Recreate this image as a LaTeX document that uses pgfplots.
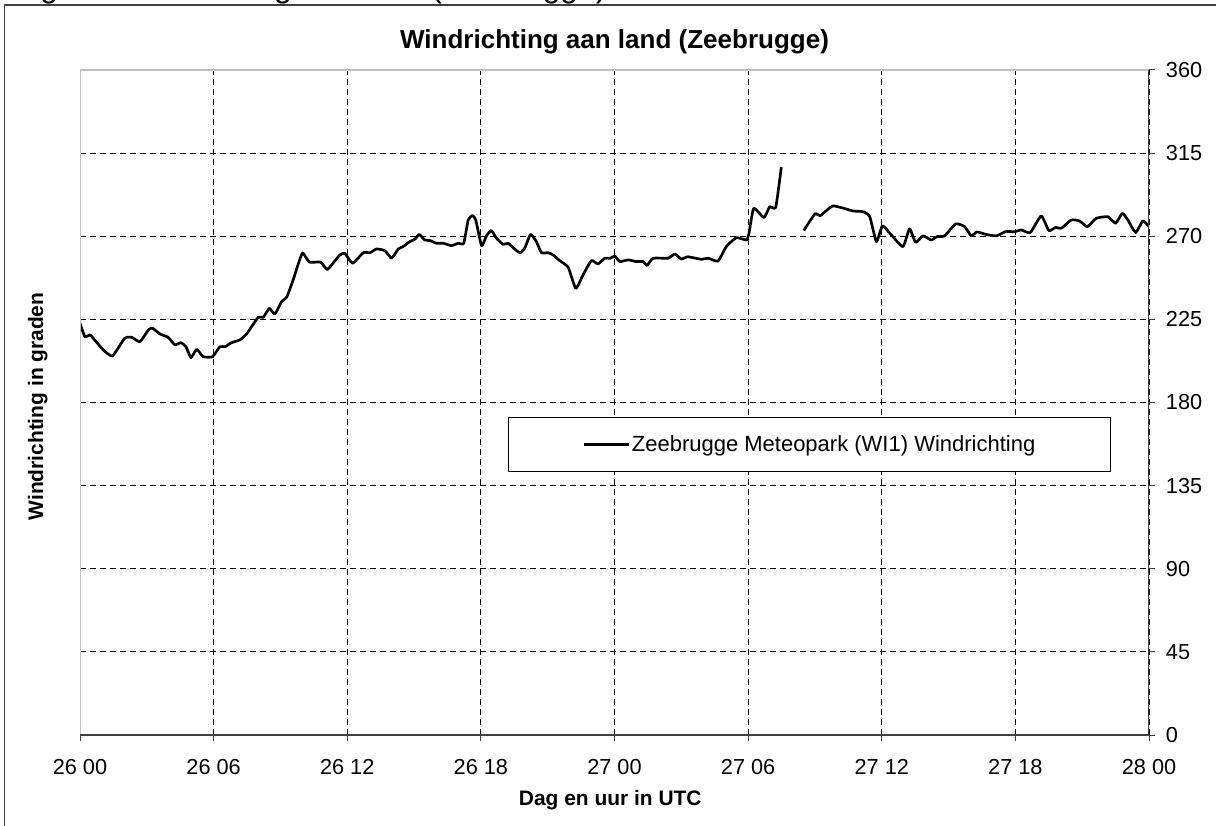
\documentclass[border=0pt]{standalone}
\usepackage{pgfplots}
\pgfplotsset{compat=1.18}
\usepackage{fontspec}
\setmainfont{Liberation Sans}
\definecolor{bordergray}{RGB}{192,192,192}
\definecolor{axisdark}{RGB}{64,64,64}
\begin{document}
\begin{tikzpicture}[x=0.75pt,y=0.75pt]
\useasboundingbox (0,0) rectangle (1216,825);
\clip (0,0) rectangle (1216,825);
% cut-off caption above the frame
\node[anchor=base west, inner sep=0pt, font=\fontsize{23.85}{26}\selectfont] at (13.5,827.7) {Fig. 4: Windrichting aan land (Zeebrugge)};
% outer chart frame
\fill[white] (4.5,-10) rectangle (1240,820);
\draw[axisdark, line width=1.1pt] (4.5,-10) -- (4.5,820) -- (1240,820);
\begin{axis}[
  at={(60pt,67.5pt)}, anchor=south west,
  scale only axis, width=801.75pt, height=498.75pt,
  xmin=0, xmax=48, ymin=0, ymax=360,
  xtick={0,6,...,48},
  xticklabels={26 00,26 06,26 12,26 18,27 00,27 06,27 12,27 18,28 00},
  ytick={0,45,...,360},
  xtick pos=left, ytick pos=right,
  yticklabel pos=right,
  tick align=outside, major tick length=4.5pt,
  tick style={axisdark, line width=0.75pt},
  axis line style={draw=none},
  grid=major,
  major grid style={black, line width=0.75pt, dash pattern=on 4.5pt off 3pt},
  /pgf/number format/assume math mode=true,
  ticklabel style={font=\fontsize{16.3}{19}\selectfont},
  yticklabel style={anchor=west, inner sep=0pt, xshift=8pt},
  xticklabel style={anchor=base, inner sep=0pt, yshift=-25pt},
  title={\bfseries Windrichting aan land (Zeebrugge)},
  title style={at={(axis description cs:0.5,1.0196)}, anchor=base, inner sep=0pt, font=\fontsize{19.5}{22}\selectfont},
  xlabel={\bfseries Dag en uur in UTC},
  xlabel style={at={(axis description cs:0.496,-0.1063)}, anchor=base, inner sep=0pt, font=\fontsize{15.7}{18}\selectfont},
  ylabel={\bfseries Windrichting in graden},
  ylabel style={at={(axis description cs:-0.0346,0.494)}, anchor=base, inner sep=0pt, font=\fontsize{15.7}{18}\selectfont},
  legend style={at={(axis description cs:0.4004,0.4782)}, anchor=north west,
    draw=black, line width=0.75pt, inner xsep=55.5pt, inner ysep=12.5pt,
    font=\fontsize{16.5}{19}\selectfont, nodes={inner xsep=1pt, inner ysep=1pt},
    /tikz/every even column/.append style={column sep=0pt}},
  legend image code/.code={\draw[#1] (0pt,0pt) -- (34pt,0pt);},
]
\addplot[black, line width=2pt, line join=round, smooth, tension=0.3] coordinates {
(0,222.9) (0.22,215.6) (0.45,216.6) (0.6,214.7) (1.05,208.4) (1.46,205.2)
(2.0,214.7) (2.32,215.3) (2.69,212.9) (3.07,219.3) (3.26,220.2) (3.59,217.1)
(3.96,215.3) (4.26,211.2) (4.52,212.4) (4.76,210.2) (4.98,204.3) (5.24,208.8)
(5.53,204.8) (5.95,204.8) (6.28,210.2) (6.51,210.2) (6.81,212.4) (7.18,213.9)
(7.48,217.1) (8.0,226.1) (8.23,226.1) (8.5,231.0) (8.75,227.9) (9.05,234.6)
(9.28,237.0) (9.57,246.3) (9.8,255) (10.0,261) (10.3,256) (10.8,256)
(11.1,252) (11.4,256) (11.67,259.9) (11.89,260.8) (12.24,255.4) (12.72,261.1)
(13.02,261.1) (13.31,263.1) (13.69,262.2) (13.99,258.1) (14.29,263.1) (14.51,264.4)
(14.81,267.1) (15.04,268.4) (15.23,271.0) (15.48,268.0) (15.74,267.6) (16.0,266.2)
(16.31,266.2) (16.68,264.9) (16.98,266.2) (17.23,266.2) (17.43,278.8) (17.62,281.2)
(17.77,278.8) (18.03,264.9) (18.25,270.2) (18.47,273.1) (18.7,268.9) (19.0,265.6)
(19.22,266.2) (19.45,263.8) (19.75,261.1) (19.97,263.5) (20.23,271.0) (20.49,267.1)
(20.72,261.1) (21.02,261.1) (21.24,259.9) (21.54,256.8) (21.92,253.2) (22.26,241.8)
(22.59,249.1) (22.96,256.8) (23.26,255.0) (23.56,258.1) (23.82,258.1) (24.01,259.3)
(24.24,256.3) (24.61,257.2) (24.98,256.3) (25.28,256.3) (25.46,254.2) (25.73,258.1)
(26.4,258.1) (26.71,260.4) (27.0,257.7) (27.3,258.9) (27.9,257.5) (28.2,258.1)
(28.65,256.6) (29.02,264.4) (29.47,269.2) (29.92,268.0) (30.04,271.6) (30.25,285.1)
(30.71,280.1) (30.97,286.0) (31.24,285.7) (31.49,307.4)
};
\addlegendentry{Zeebrugge Meteopark (WI1) Windrichting}
\addplot[black, line width=2pt, line join=round, smooth, tension=0.3, forget plot] coordinates {
(32.5,273.1) (33.0,282.1) (33.25,281.2) (33.81,286.4) (34.71,283.7) (35.16,283.3)
(35.46,280.6) (35.76,267.1) (36.03,275.6) (36.43,270.7) (36.95,264.4) (37.25,274.0)
(37.52,266.7) (37.85,270.2) (38.22,268.0) (38.48,269.8) (38.82,270.2) (39.32,276.7)
(39.72,275.2) (40.02,270.2) (40.27,272.3) (40.69,271.0) (41.14,270.2) (41.56,272.5)
(41.97,272.5) (42.27,273.4) (42.67,272.0) (43.16,281.0) (43.5,273.1) (43.81,274.8)
(44.06,274.3) (44.51,278.8) (44.88,278.3) (45.23,275.2) (45.63,279.7) (46.15,280.6)
(46.5,277.0) (46.8,282.4) (47.05,278.8) (47.4,272.0) (47.72,278.3) (48.0,275.2)
};
\draw[bordergray, line width=1.5pt] (rel axis cs:0,0) -- (rel axis cs:0,1) -- (rel axis cs:1,1);
\draw[axisdark, line width=1.1pt] (rel axis cs:1,1) -- (rel axis cs:1,0) -- (rel axis cs:0,0);
\end{axis}
\end{tikzpicture}
\end{document}
